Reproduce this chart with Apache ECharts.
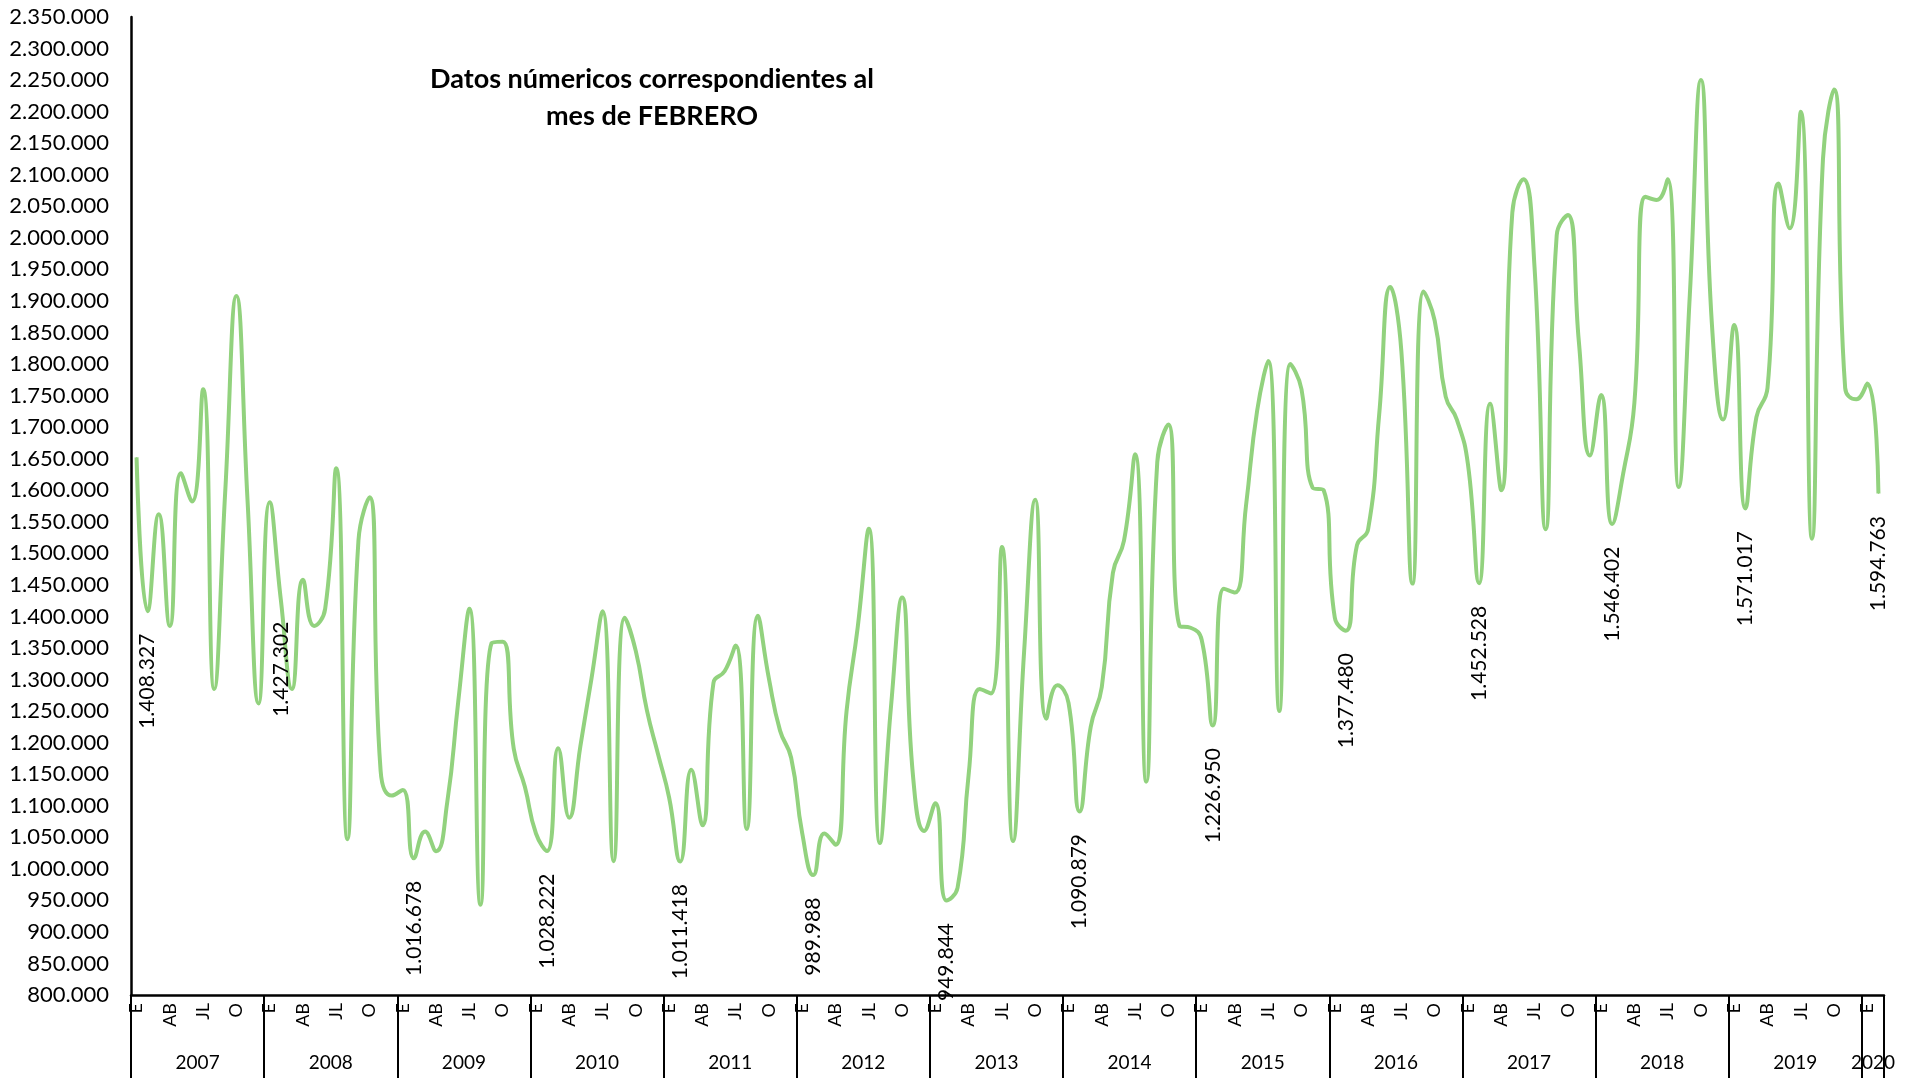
<!DOCTYPE html>
<html>
<head>
<meta charset="utf-8">
<script src="https://cdn.jsdelivr.net/npm/echarts@6/dist/echarts.min.js"></script>
<style>
html,body{margin:0;padding:0;background:#fff;}
#chart{width:1918px;height:1081px;}
</style>
</head>
<body>
<div id="chart"></div>
<script>
// ---- Data ----
const years = ['2007','2008','2009','2010','2011','2012','2013','2014','2015','2016','2017','2018','2019','2020'];
const monthTickLabels = ['E','','','AB','','','JL','','','O','',''];

const v2007 = [1652000, 1408327, 1562000, 1385000, 1627000, 1582000, 1760000, 1285000, 1600000, 1908000, 1585000, 1262000];
const v2008 = [1581000, 1427302, 1285000, 1458000, 1385000, 1412000, 1635000, 1047000, 1520000, 1589000, 1155000, 1116000];
const v2009 = [1125000, 1016678, 1059000, 1028000, 1105000, 1266000, 1412000, 943000, 1358000, 1360000, 1190000, 1130000];
const v2010 = [1056000, 1028222, 1191000, 1081000, 1194000, 1301000, 1408000, 1012000, 1398000, 1345000, 1251000, 1182000];
const v2011 = [1113000, 1011418, 1157000, 1069000, 1295000, 1313000, 1354000, 1063000, 1401000, 1301000, 1219000, 1176000];
const v2012 = [1056000, 989988, 1056000, 1038000, 1251000, 1383000, 1539000, 1041000, 1257000, 1430000, 1144000, 1060000];
const v2013 = [1104000, 949844, 970000, 1150000, 1285000, 1278000, 1510000, 1044000, 1345000, 1585000, 1238000, 1291000];
const v2014 = [1263000, 1090879, 1225000, 1288000, 1469000, 1520000, 1657000, 1138000, 1645000, 1704000, 1385000, 1382000];
const v2015 = [1363000, 1226950, 1444000, 1438000, 1576000, 1726000, 1805000, 1250000, 1800000, 1760000, 1604000, 1600000];
const v2016 = [1398000, 1377480, 1513000, 1538000, 1720000, 1922000, 1820000, 1452000, 1915000, 1869000, 1748000, 1712000];
const v2017 = [1641000, 1452528, 1737000, 1600000, 2040000, 2093000, 1954000, 1538000, 2004000, 2036000, 1835000, 1655000];
const v2018 = [1751000, 1546402, 1627000, 1738000, 2065000, 2060000, 2093000, 1605000, 1910000, 2250000, 1860000, 1712000];
const v2019 = [1862000, 1571017, 1716000, 1762000, 2086000, 2015000, 2200000, 1523000, 2125000, 2235000, 1762000, 1744000];
const v2020 = [1769000, 1594763];

const yTickMin = 800000, yTickMax = 2350000, yTickStep = 50000;

// ---- Build ----
const allValues = [].concat(v2007, v2008, v2009, v2010, v2011, v2012, v2013, v2014, v2015, v2016, v2017, v2018, v2019, v2020);
const categories = allValues.map((_, i) => years[Math.floor(i / 12)] + '-' + (i % 12 + 1));

function fmt(n) {
  return String(Math.round(n)).replace(/\B(?=(\d{3})+(?!\d))/g, '.');
}

const seriesData = allValues.map((v, i) => {
  if (i % 12 === 1) {
    return { value: v, label: { show: true } };
  }
  return v;
});

const FONT = 'Lato, "Open Sans", sans-serif';
const LINE = '#92d27e';

const chart = echarts.init(document.getElementById('chart'), null, { renderer: 'canvas' });
chart.setOption({
  animation: false,
  backgroundColor: '#ffffff',
  grid: { left: 131, right: 34, top: 17, bottom: 86, containLabel: false },
  graphic: [{
    type: 'text',
    x: 652,
    y: 61,
    style: {
      text: 'Datos númericos correspondientes al\nmes de FEBRERO',
      font: 'bold 27px ' + FONT,
      fill: '#000',
      align: 'center',
      lineHeight: 37
    }
  }],
  xAxis: [{
    type: 'category',
    data: categories,
    boundaryGap: true,
    position: 'bottom',
    axisLine: { show: true, lineStyle: { color: '#000', width: 2.5 } },
    axisTick: {
      show: true,
      interval: (idx) => idx % 12 === 0,
      length: 83,
      lineStyle: { color: '#000', width: 2 }
    },
    axisLabel: {
      show: true,
      interval: (idx) => monthTickLabels[idx % 12] !== '',
      formatter: (val, idx) => monthTickLabels[idx % 12],
      rotate: 90,
      margin: 8,
      color: '#000',
      fontFamily: FONT,
      fontSize: 18
    },
    splitLine: { show: false }
  }, {
    type: 'category',
    data: categories,
    boundaryGap: true,
    position: 'bottom',
    axisLine: { show: false },
    axisTick: { show: false },
    axisLabel: {
      show: true,
      interval: (idx) => idx % 12 === 6 || idx === allValues.length - 1,
      formatter: (val, idx) => years[Math.floor(idx / 12)],
      margin: 58,
      padding: [0, 11, 0, 0],
      color: '#000',
      fontFamily: FONT,
      fontSize: 19
    },
    splitLine: { show: false }
  }],
  yAxis: {
    type: 'value',
    min: yTickMin,
    max: yTickMax,
    interval: yTickStep,
    axisLine: { show: true, lineStyle: { color: '#000', width: 2.5 } },
    axisTick: { show: false },
    splitLine: { show: false },
    axisLabel: {
      formatter: (v) => fmt(v),
      margin: 22,
      color: '#000',
      fontFamily: FONT,
      fontSize: 22
    }
  },
  series: [{
    type: 'line',
    xAxisIndex: 0,
    data: seriesData,
    smooth: 0.5,
    showSymbol: true,
    showAllSymbol: true,
    symbol: 'circle',
    symbolSize: 1,
    itemStyle: { color: LINE },
    lineStyle: { color: LINE, width: 4 },
    label: {
      show: false,
      position: 'bottom',
      distance: 22,
      rotate: 90,
      align: 'right',
      verticalAlign: 'middle',
      formatter: (p) => fmt(p.value),
      color: '#000',
      fontFamily: FONT,
      fontSize: 21
    },
    labelLayout: { hideOverlap: false },
    emphasis: { disabled: true }
  }]
});
</script>
</body>
</html>
